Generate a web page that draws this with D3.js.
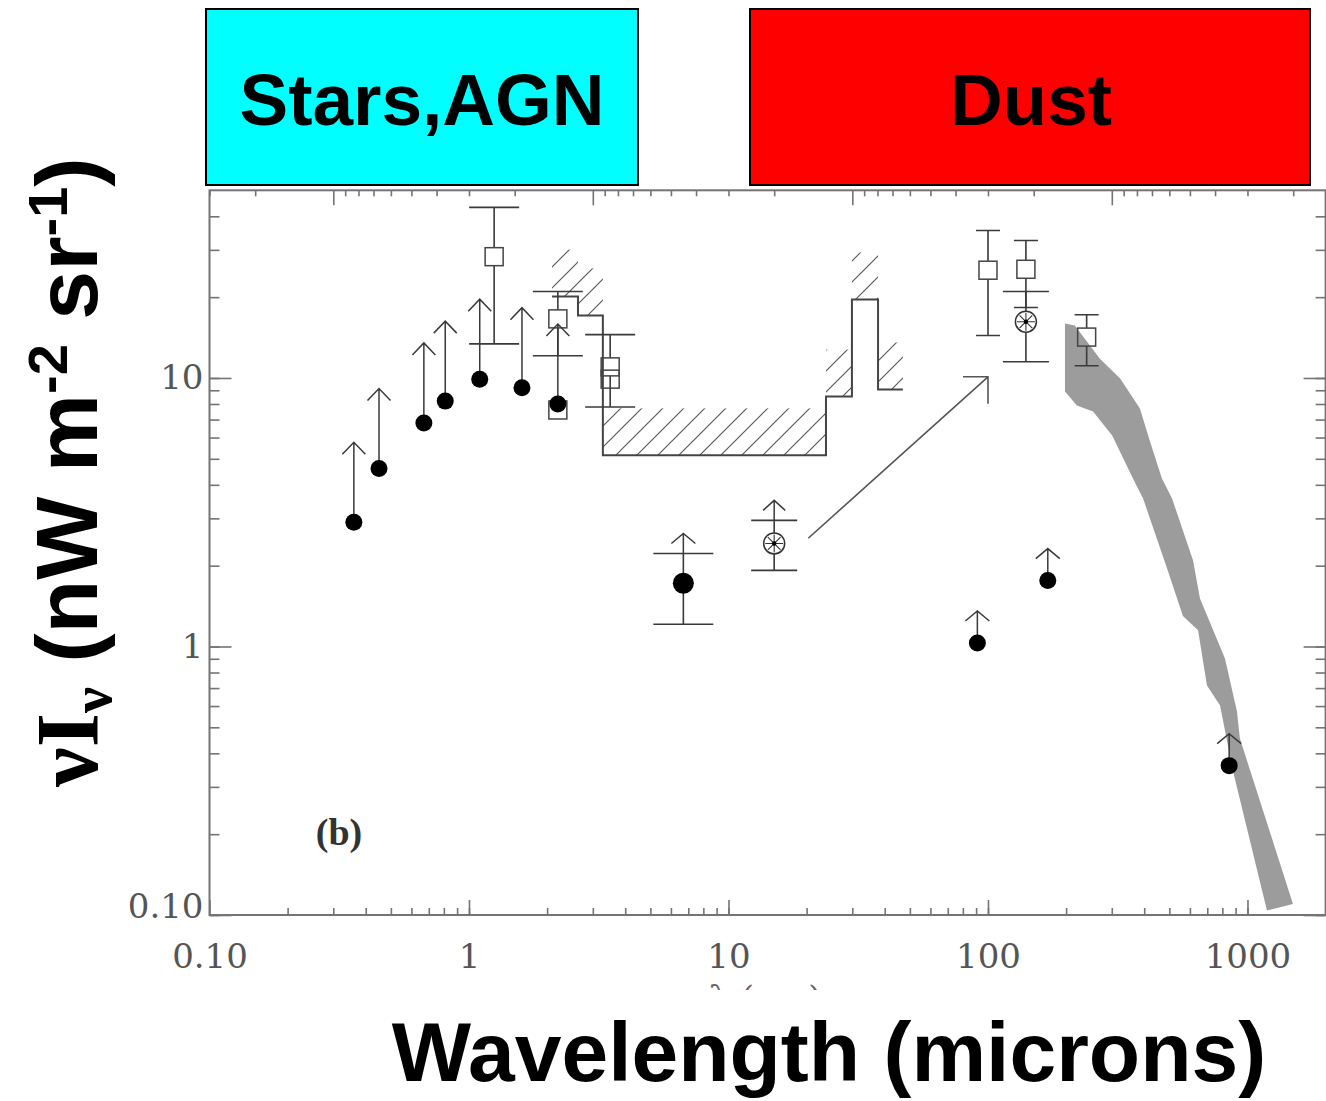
<!DOCTYPE html>
<html>
<head>
<meta charset="utf-8">
<script src="https://cdn.jsdelivr.net/npm/d3@7"></script>
<style>
  html, body { margin: 0; padding: 0; background: #fff; }
  svg { display: block; }
</style>
</head>
<body>
<svg id="chart" width="1326" height="1101"></svg>
<script>
// ---------------- data ----------------
const xTickValues = [0.1, 1, 10, 100, 1000];
const xTickLabels = ["0.10", "1", "10", "100", "1000"];
const yTickValues = [0.1, 1, 10];
const yTickLabels = ["0.10", "1", "10"];

// galaxy-count lower limits (filled circles with upward arrows), wavelength in microns
const countWave = [0.36, 0.45, 0.67, 0.81, 1.10, 1.60, 2.2];
const countVal  = [2.9, 4.6, 6.8, 8.2, 9.9, 9.2, 8.0];

// mid-IR lower limit with error bar (filled circle)
const midWave = [6.7];
const midVal  = [1.72];
const midLo   = [1.21];
const midHi   = [2.22];

// circled-star points with error bars
const starWave    = [15, 140];
const starVal     = [2.42, 16.2];
const starLo      = [1.92, 11.5];
const starHi      = [2.95, 21.0];
const starIsLimit = [true, false];

// far-IR / submm lower limits (filled circles, short arrows)
const farWave = [91, 170, 850];
const farVal  = [1.03, 1.76, 0.36];

// DIRBE detections (open squares)
const dirbeWave = [1.25, 2.2, 2.2, 3.5, 3.5, 100, 140, 240];
const dirbeVal  = [28.3, 16.6, 7.6, 11.0, 9.9, 25.2, 25.4, 14.2];
const dirbeLo   = [13.4, 12.1, null, 7.8, null, 14.4, 18.3, 11.1];
const dirbeHi   = [43.2, 21.0, null, 14.5, null, 35.4, 32.5, 17.2];

// upper limits drawn as a step histogram (bin edges and levels)
const ulEdges = [2.09, 2.63, 3.28, 23.75, 29.9, 37.7, 47.0];
const ulVals  = [20.1, 17.1, 5.15, 8.53, 19.6, 9.06];

// FIRAS sub-mm band: upper and lower edges
const firasUpWave = [198, 216, 270, 323, 385, 421, 468, 512, 617, 656, 819, 911, 935, 1497];
const firasUpVal  = [15.96, 15.7, 11.8, 9.96, 7.70, 5.80, 4.22, 3.56, 2.09, 1.51, 0.902, 0.573, 0.454, 0.110];
const firasLoWave = [198, 220, 254, 301, 362, 396, 490, 564, 645, 698, 784, 880, 1189];
const firasLoVal  = [8.91, 7.90, 7.50, 6.11, 4.22, 3.56, 1.95, 1.30, 1.15, 0.716, 0.603, 0.342, 0.104];

// re-emission arrow (from mid-IR to far-IR)
const shiftFrom = [20.3, 2.53];
const shiftTo   = [100, 10.1];

// ---------------- layout ----------------
const svg = d3.select("#chart");
const L = 209.5, R = 1325.6, T = 190.3, B = 915;
const x = d3.scaleLog().domain([0.1, 2000]).range([L, R]);
const y = d3.scaleLog().domain([0.1, 50]).range([B, T]);
// top axis in frequency (Hz), nu = c / lambda
const nu = d3.scaleLog().domain([3e14 / 0.1, 3e14 / 2000]).range([L, R]);

const AX = "#747474";
const INK = "#3a3a3a";

const defs = svg.append("defs");
defs.append("pattern")
  .attr("id", "hatch").attr("patternUnits", "userSpaceOnUse")
  .attr("width", 21).attr("height", 21)
  .append("path")
  .attr("d", "M-5,5 L5,-5 M0,21 L21,0 M16,26 L26,16")
  .attr("stroke", "#5a5a5a").attr("stroke-width", 1.2);
defs.append("clipPath").attr("id", "lamclip")
  .append("rect").attr("x", 600).attr("y", 960).attr("width", 330).attr("height", 30);

// ---------------- top boxes ----------------
svg.append("rect").attr("x", 206).attr("y", 9).attr("width", 432).attr("height", 176)
  .attr("fill", "#00FFFF").attr("stroke", "#000").attr("stroke-width", 2);
svg.append("rect").attr("x", 750).attr("y", 9).attr("width", 560).attr("height", 176)
  .attr("fill", "#FF0000").attr("stroke", "#000").attr("stroke-width", 2);
svg.append("text").attr("x", 422).attr("y", 125).attr("text-anchor", "middle")
  .style("font-family", "Liberation Sans, Arial, sans-serif").style("font-weight", "bold")
  .style("font-size", "73px").attr("fill", "#000").text("Stars,AGN");
svg.append("text").attr("x", 1031).attr("y", 125).attr("text-anchor", "middle")
  .style("font-family", "Liberation Sans, Arial, sans-serif").style("font-weight", "bold")
  .style("font-size", "73px").attr("fill", "#000").text("Dust");

// ---------------- axes ----------------
const serifTick = "DejaVu Serif, serif";
function styleAxis(g) {
  g.select(".domain").remove();
  g.selectAll(".tick line").attr("stroke", AX).attr("stroke-width", 1.6);
  g.selectAll("text").style("font-family", serifTick).style("font-size", "34px").attr("fill", "#555");
}
const isPow10 = v => Math.abs(Math.log10(v) - Math.round(Math.log10(v))) < 1e-6;

// bottom
const xMinor = x.ticks().filter(v => v > 0.1 && v < 2000);
svg.append("g").attr("transform", `translate(0,${B})`)
  .call(d3.axisBottom(x).tickValues(xMinor).tickSizeInner(-7).tickSizeOuter(0).tickFormat(""))
  .call(styleAxis);
svg.append("g").attr("transform", `translate(0,${B})`)
  .call(d3.axisBottom(x).tickValues(xTickValues).tickSizeInner(-15).tickSizeOuter(0)
    .tickPadding(29).tickFormat((d, i) => xTickLabels[i]))
  .call(styleAxis);

// left
const yMinor = y.ticks().filter(v => v < 50);
svg.append("g").attr("transform", `translate(${L},0)`)
  .call(d3.axisLeft(y).tickValues(yMinor).tickSizeInner(-10).tickSizeOuter(0).tickFormat(""))
  .call(styleAxis);
const yMajor = svg.append("g").attr("transform", `translate(${L},0)`)
  .call(d3.axisLeft(y).tickValues(yTickValues).tickSizeInner(-22).tickSizeOuter(0)
    .tickPadding(6).tickFormat((d, i) => yTickLabels[i]))
  .call(styleAxis);
yMajor.selectAll(".tick text").attr("y", d => d === 0.1 ? -8 : 0);

// right
svg.append("g").attr("transform", `translate(${R},0)`)
  .call(d3.axisRight(y).tickValues(yMinor).tickSizeInner(-10).tickSizeOuter(0).tickFormat(""))
  .call(styleAxis);
svg.append("g").attr("transform", `translate(${R},0)`)
  .call(d3.axisRight(y).tickValues(yTickValues).tickSizeInner(-22).tickSizeOuter(0).tickFormat(""))
  .call(styleAxis);

// top (frequency)
const nuTicks = nu.ticks();
svg.append("g").attr("transform", `translate(0,${T})`)
  .call(d3.axisTop(nu).tickValues(nuTicks.filter(v => !isPow10(v))).tickSizeInner(-6).tickSizeOuter(0).tickFormat(""))
  .call(styleAxis);
svg.append("g").attr("transform", `translate(0,${T})`)
  .call(d3.axisTop(nu).tickValues(nuTicks.filter(isPow10)).tickSizeInner(-15).tickSizeOuter(0).tickFormat(""))
  .call(styleAxis);

// frame
svg.append("rect").attr("x", L).attr("y", T).attr("width", R - L).attr("height", B - T)
  .attr("fill", "none").attr("stroke", AX).attr("stroke-width", 2);

// ---------------- upper-limit histogram with hatching ----------------
const HATCH = 47;
const ulG = svg.append("g");
ulVals.forEach((v, i) => {
  ulG.append("rect")
    .attr("x", x(ulEdges[i])).attr("width", x(ulEdges[i + 1]) - x(ulEdges[i]))
    .attr("y", y(v) - HATCH).attr("height", HATCH)
    .attr("fill", "url(#hatch)");
});
const stepPts = ulVals.map((v, i) => [ulEdges[i], v]);
stepPts.push([ulEdges[ulEdges.length - 1], ulVals[ulVals.length - 1]]);
ulG.append("path")
  .attr("d", d3.line().x(d => x(d[0])).y(d => y(d[1])).curve(d3.curveStepAfter)(stepPts))
  .attr("fill", "none").attr("stroke", "#444").attr("stroke-width", 2);

// ---------------- FIRAS band ----------------
const bandPts = firasUpWave.map((w, i) => [w, firasUpVal[i]])
  .concat(firasLoWave.map((w, i) => [w, firasLoVal[i]]).reverse());
svg.append("path")
  .attr("d", d3.line().x(d => x(d[0])).y(d => y(d[1]))(bandPts) + "Z")
  .attr("fill", "#9c9c9c").attr("stroke", "none");

// ---------------- re-emission arrow ----------------
const ax0 = x(shiftFrom[0]), ay0 = y(shiftFrom[1]), ax1 = x(shiftTo[0]), ay1 = y(shiftTo[1]);
svg.append("path")
  .attr("d", `M${ax0},${ay0} L${ax1},${ay1} M${ax1 - 25},${ay1} L${ax1},${ay1} L${ax1},${ay1 + 27}`)
  .attr("fill", "none").attr("stroke", "#555").attr("stroke-width", 1.6);

// ---------------- helpers ----------------
const marks = svg.append("g");
function errBar(cx, lo, hi, half, gapTop, gapBot) {
  const yl = y(lo), yh = y(hi);
  let d = `M${cx - half},${yh} L${cx + half},${yh} M${cx - half},${yl} L${cx + half},${yl}`;
  if (gapTop != null) d += ` M${cx},${yh} L${cx},${gapTop} M${cx},${gapBot} L${cx},${yl}`;
  else d += ` M${cx},${yh} L${cx},${yl}`;
  marks.append("path").attr("d", d).attr("fill", "none").attr("stroke", INK).attr("stroke-width", 1.6);
}
function upArrow(cx, yStart, len, half, head) {
  const tip = yStart - len;
  marks.append("path")
    .attr("d", `M${cx},${yStart} L${cx},${tip} M${cx - half},${tip + head} L${cx},${tip} L${cx + half},${tip + head}`)
    .attr("fill", "none").attr("stroke", INK).attr("stroke-width", 1.5);
}

// ---------------- DIRBE squares ----------------
const SQ = 9;
dirbeWave.forEach((w, i) => {
  const cx = x(w), cy = y(dirbeVal[i]);
  if (dirbeLo[i] != null) {
    errBar(cx, dirbeLo[i], dirbeHi[i], w < 10 ? 25 : 12, cy - SQ, cy + SQ);
  }
  marks.append("rect").attr("x", cx - SQ).attr("y", cy - SQ).attr("width", 2 * SQ).attr("height", 2 * SQ)
    .attr("fill", "none").attr("stroke", "#444").attr("stroke-width", 1.5);
});

// ---------------- galaxy-count lower limits ----------------
countWave.forEach((w, i) => {
  const cx = x(w), cy = y(countVal[i]);
  upArrow(cx, cy, 80, 11.5, 12);
  marks.append("circle").attr("cx", cx).attr("cy", cy).attr("r", 8.5).attr("fill", "#000");
});

// ---------------- mid-IR lower limit ----------------
midWave.forEach((w, i) => {
  const cx = x(w), cy = y(midVal[i]);
  errBar(cx, midLo[i], midHi[i], 30);
  upArrow(cx, y(midHi[i]), 20, 12, 10);
  marks.append("circle").attr("cx", cx).attr("cy", cy).attr("r", 10.5).attr("fill", "#000");
});

// ---------------- circled-star points ----------------
starWave.forEach((w, i) => {
  const cx = x(w), cy = y(starVal[i]);
  errBar(cx, starLo[i], starHi[i], 23);
  if (starIsLimit[i]) upArrow(cx, y(starHi[i]), 20, 11, 10);
  marks.append("circle").attr("cx", cx).attr("cy", cy).attr("r", 10.5)
    .attr("fill", "#fff").attr("stroke", "#333").attr("stroke-width", 1.5);
  let d = "";
  for (let k = 0; k < 4; k++) {
    const a = k * Math.PI / 4, dx = 9 * Math.cos(a), dy = 9 * Math.sin(a);
    d += `M${cx - dx},${cy - dy} L${cx + dx},${cy + dy} `;
  }
  marks.append("path").attr("d", d).attr("stroke", "#333").attr("stroke-width", 1.1);
  marks.append("circle").attr("cx", cx).attr("cy", cy).attr("r", 2.2).attr("fill", "#000");
});

// ---------------- far-IR lower limits ----------------
farWave.forEach((w, i) => {
  const cx = x(w), cy = y(farVal[i]);
  upArrow(cx, cy, 32, 12, 10);
  marks.append("circle").attr("cx", cx).attr("cy", cy).attr("r", 8.5).attr("fill", "#000");
});

// ---------------- panel label ----------------
svg.append("text").attr("x", 339).attr("y", 845).attr("text-anchor", "middle")
  .style("font-family", "Liberation Serif, Times New Roman, serif").style("font-weight", "bold")
  .style("font-size", "38px").attr("fill", "#333").text("(b)");

// original axis title, mostly hidden below the tick labels
svg.append("text").attr("x", 765).attr("y", 1010).attr("text-anchor", "middle")
  .attr("clip-path", "url(#lamclip)")
  .style("font-family", serifTick).style("font-size", "34px").attr("fill", "#666").text("λ (μm)");

// ---------------- axis titles ----------------
svg.append("text").attr("x", 829).attr("y", 1081).attr("text-anchor", "middle")
  .style("font-family", "Liberation Sans, Arial, sans-serif").style("font-weight", "bold")
  .style("font-size", "84px").attr("fill", "#000").text("Wavelength (microns)");

const yl = svg.append("text").attr("transform", "translate(97,472) rotate(-90)")
  .attr("text-anchor", "middle")
  .style("font-family", "Liberation Sans, Arial, sans-serif").style("font-weight", "bold")
  .style("font-size", "88px").attr("fill", "#000");
yl.append("tspan").style("font-family", "Liberation Serif, Times New Roman, serif").text("νI");
yl.append("tspan").style("font-family", "Liberation Serif, Times New Roman, serif")
  .style("font-size", "58px").attr("dy", 14).text("ν");
yl.append("tspan").attr("dy", -14).text(" (nW m");
yl.append("tspan").style("font-size", "56px").attr("dy", -30).text("-2");
yl.append("tspan").attr("dy", 30).text(" sr");
yl.append("tspan").style("font-size", "56px").attr("dy", -30).text("-1");
yl.append("tspan").attr("dy", 30).text(")");
</script>
</body>
</html>
